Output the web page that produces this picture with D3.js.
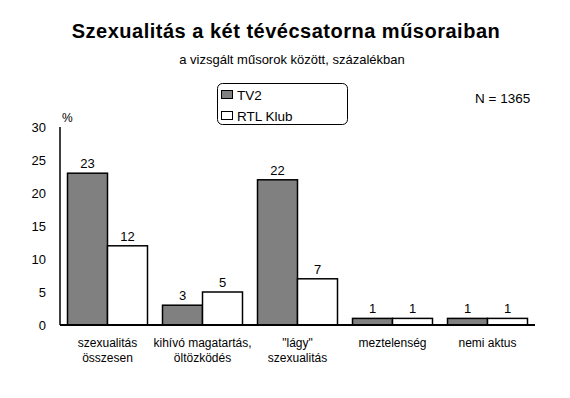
<!DOCTYPE html>
<html>
<head>
<meta charset="utf-8">
<script src="https://cdn.jsdelivr.net/npm/d3@7"></script>
<style>
  body { margin: 0; background: #fff; }
  text { font-family: Arial, "Liberation Sans", sans-serif; fill: #000; }
</style>
</head>
<body>
<div class="chart"></div>
<script>
var categories = [
  ["szexualitás", "összesen"],
  ["kihívó magatartás,", "öltözködés"],
  ["\"lágy\"", "szexualitás"],
  ["meztelenség"],
  ["nemi aktus"]
];
var seriesNames = ["TV2", "RTL Klub"];
var tv2 = [23, 3, 22, 1, 1];
var rtl = [12, 5, 7, 1, 1];
var yTicks = [0, 5, 10, 15, 20, 25, 30];

var svgWidth = 570;
var svgHeight = 398;
var margin = { top: 127, right: 35, bottom: 73, left: 60 };
var width = svgWidth - margin.left - margin.right;
var height = svgHeight - margin.top - margin.bottom;
var colors = ["#808080", "#ffffff"];

var svg = d3.select(".chart")
  .append("svg")
  .attr("width", svgWidth)
  .attr("height", svgHeight);

// Title and subtitle
svg.append("text")
  .attr("x", 286).attr("y", 38)
  .attr("text-anchor", "middle")
  .style("font-size", "20px")
  .style("font-weight", "bold")
  .style("letter-spacing", "0.5px")
  .text("Szexualitás a két tévécsatorna műsoraiban");

svg.append("text")
  .attr("x", 292).attr("y", 64)
  .attr("text-anchor", "middle")
  .style("font-size", "13px")
  .text("a vizsgált műsorok között, százalékban");

svg.append("text")
  .attr("x", 475).attr("y", 103)
  .style("font-size", "13.5px")
  .text("N = 1365");

// Legend
var legend = svg.append("g");
legend.append("rect")
  .attr("x", 217.5).attr("y", 83.5)
  .attr("width", 130).attr("height", 41)
  .attr("rx", 5)
  .attr("fill", "none")
  .attr("stroke", "#000");
seriesNames.forEach(function(name, i) {
  legend.append("rect")
    .attr("x", 221.5).attr("y", 90.5 + i * 21)
    .attr("width", 11).attr("height", 8)
    .attr("fill", colors[i])
    .attr("stroke", "#000");
  legend.append("text")
    .attr("x", 237).attr("y", 100 + i * 21)
    .style("font-size", "13.5px")
    .text(name);
});

var chart = svg.append("g")
  .attr("transform", "translate(" + margin.left + "," + margin.top + ")");

var x0 = d3.scaleBand()
  .domain(d3.range(categories.length))
  .range([0, width])
  .paddingInner(0.158)
  .paddingOuter(0.079);

var x1 = d3.scaleBand()
  .domain([0, 1])
  .range([0, x0.bandwidth()]);

var y = d3.scaleLinear()
  .domain([0, 30])
  .range([height, 0]);

// Bars
var groups = chart.selectAll(".group")
  .data(categories)
  .enter()
  .append("g")
  .attr("class", "group")
  .attr("transform", function(d, i) { return "translate(" + x0(i) + ",0)"; });

groups.each(function(d, i) {
  var vals = [tv2[i], rtl[i]];
  var g = d3.select(this);
  g.selectAll("rect")
    .data(vals)
    .enter()
    .append("rect")
    .attr("x", function(v, j) { return x1(j); })
    .attr("y", function(v) { return y(v); })
    .attr("width", x1.bandwidth())
    .attr("height", function(v) { return height - y(v); })
    .attr("fill", function(v, j) { return colors[j]; })
    .attr("stroke", "#000")
    .attr("stroke-width", 1.5);
  g.selectAll(".val")
    .data(vals)
    .enter()
    .append("text")
    .attr("class", "val")
    .attr("x", function(v, j) { return x1(j) + x1.bandwidth() / 2; })
    .attr("y", function(v) { return y(v) - 5; })
    .attr("text-anchor", "middle")
    .style("font-size", "13px")
    .text(function(v) { return v; });
  g.append("text")
    .attr("x", x0.bandwidth() / 2)
    .attr("y", height + 22)
    .attr("text-anchor", "middle")
    .style("font-size", "12px")
    .selectAll("tspan")
    .data(d)
    .enter()
    .append("tspan")
    .attr("x", x0.bandwidth() / 2)
    .attr("dy", function(t, k) { return k === 0 ? 0 : 15; })
    .text(function(t) { return t; });
});

// Y axis
var yAxis = d3.axisLeft(y).tickValues(yTicks).tickSize(0).tickPadding(14);
var yg = chart.append("g").call(yAxis);
yg.select(".domain").remove();
yg.selectAll("text").style("font-size", "13px").attr("font-family", null);

chart.append("line")
  .attr("x1", 0).attr("x2", 0)
  .attr("y1", 0).attr("y2", height)
  .attr("stroke", "#000").attr("stroke-width", 1.5);

chart.append("line")
  .attr("x1", 0).attr("x2", width)
  .attr("y1", height).attr("y2", height)
  .attr("stroke", "#000").attr("stroke-width", 2);

chart.append("text")
  .attr("x", 2).attr("y", -5)
  .style("font-size", "12px")
  .text("%");
</script>
</body>
</html>
